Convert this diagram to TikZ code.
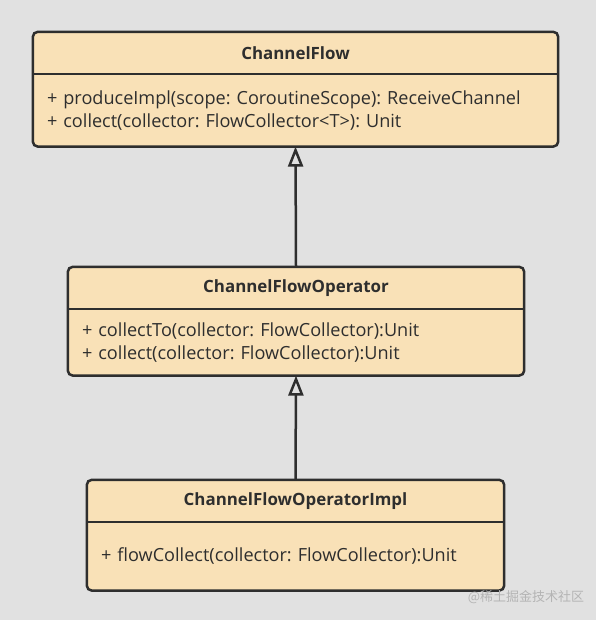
\documentclass[tikz,border=0pt]{standalone}
\usepackage{fontspec}
\setmainfont{Open Sans}
\newfontfamily\cjkfont{Noto Sans CJK SC}
\usepackage{xcolor}
\usetikzlibrary{positioning,arrows.meta,backgrounds}
\definecolor{classfill}{HTML}{F9E1B7}
\definecolor{classline}{HTML}{2E2E2E}
\definecolor{canvas}{HTML}{E1E1E1}
\definecolor{markgray}{HTML}{B4B4B4}
\frenchspacing

\begin{document}
\begin{tikzpicture}[x=1pt,y=-1pt,
    head/.style = {inner sep=0pt, minimum height=42pt, text=classline, font=\fontsize{16.9}{19}\selectfont\bfseries},
    body/.style = {inner xsep=14pt, inner ysep=0pt, align=left, text=classline, font=\fontsize{18.1}{23.5}\selectfont},
    classbox/.style = {draw=classline, fill=classfill, line width=2.5pt, rounded corners=5pt},
    extends/.style = {draw=classline, line width=2.5pt, -{Triangle[open,length=20pt,width=15pt]}}]
      \useasboundingbox (0,0) rectangle (596,620);

      \node[head, minimum width=525pt] (flowH) at (295.5,53) {ChannelFlow};
      \node[body, minimum width=525pt, minimum height=72pt, text width=497pt] (flowB) [below=0pt of flowH]
        {+ produceImpl(scope: CoroutineScope): ReceiveChannel\\+ collect(collector: FlowCollector<T>): Unit};

      \node[head, minimum width=456pt] (opH) at (296,288) {ChannelFlowOperator};
      \node[body, minimum width=456pt, minimum height=66pt, text width=428pt] (opB) [below=0pt of opH]
        {+ collectTo(collector: FlowCollector):Unit\\+ collect(collector: FlowCollector):Unit};

      \node[head, minimum width=417pt] (implH) at (295.5,501) {ChannelFlowOperatorImpl};
      \node[body, minimum width=417pt, minimum height=68pt, text width=389pt] (implB) [below=0pt of implH]
        {+ flowCollect(collector: FlowCollector):Unit};

      \node[text=markgray, font=\cjkfont\fontsize{13}{15}\selectfont] (mark) at (526,597) {@稀土掘金技术社区};

      \begin{scope}[on background layer]
        \fill[canvas] (0,0) rectangle (596,620);
        \draw[classbox] (flowH.north west) rectangle (flowB.south east);
        \draw[classbox] (opH.north west) rectangle (opB.south east);
        \draw[classbox] (implH.north west) rectangle (implB.south east);
      \end{scope}

      \draw[classline, line width=2pt] (flowH.south west) -- (flowH.south east);
      \draw[classline, line width=2pt] (opH.south west) -- (opH.south east);
      \draw[classline, line width=2pt] (implH.south west) -- (implH.south east);

      \draw[extends] (opH.north) -- (flowB.south);
      \draw[extends] (implH.north) -- (opB.south);
\end{tikzpicture}
\end{document}
